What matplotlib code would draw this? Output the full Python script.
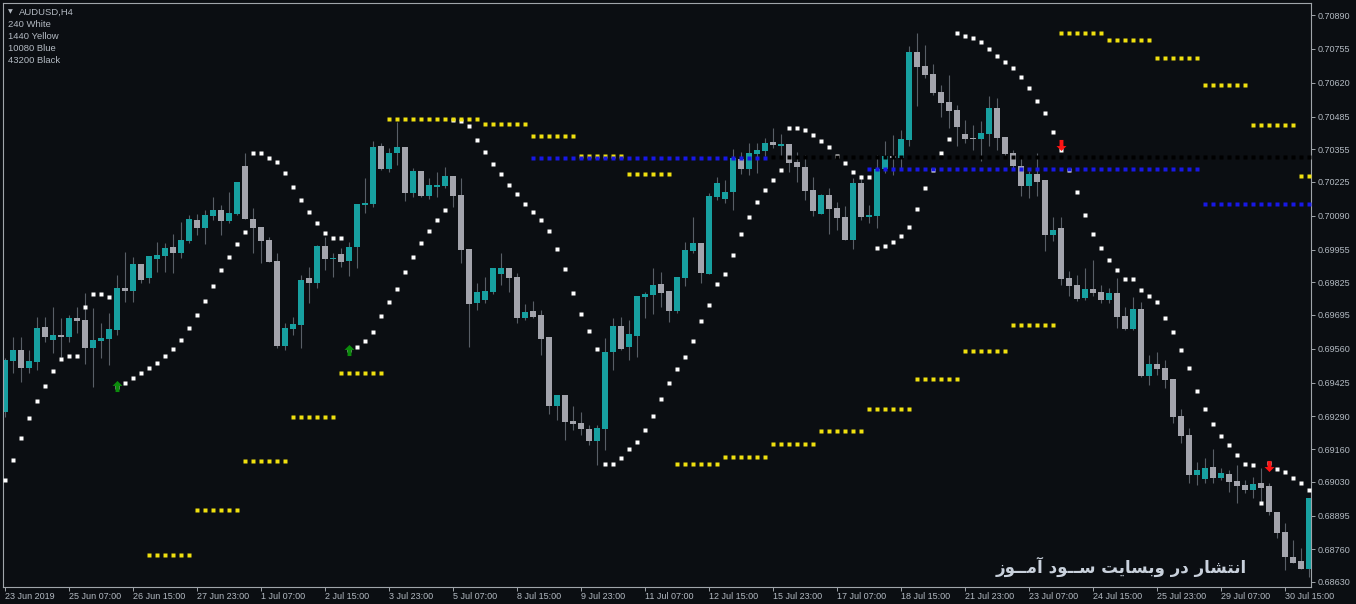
import numpy as np
import matplotlib
matplotlib.use("Agg")
import matplotlib.pyplot as plt
from matplotlib.path import Path

# AUDUSD H4, prices in points (1e-5)
opens = np.array([
    69308, 69511, 69555, 69483, 69507, 69647, 69595, 69615, 69607, 69682,
    69674, 69563, 69591, 69599, 69635, 69802, 69790, 69898, 69842, 69918,
    69930, 69965, 69942, 69989, 70073, 70041, 70089, 70113, 70069, 70097,
    70288, 70077, 70045, 69993, 69910, 69571, 69639, 69655, 69842, 69822,
    69969, 69918, 69938, 69910, 69965, 70133, 70137, 70368, 70276, 70340,
    70364, 70181, 70268, 70169, 70205, 70209, 70248, 70173, 69957, 69742,
    69754, 69786, 69858, 69882, 69846, 69682, 69710, 69694, 69607, 69332,
    69376, 69272, 69264, 69240, 69192, 69240, 69547, 69651, 69567, 69611,
    69766, 69774, 69818, 69790, 69710, 69842, 69950, 69981, 69858, 70165,
    70157, 70185, 70316, 70276, 70336, 70348, 70384, 70368, 70376, 70304,
    70284, 70193, 70097, 70173, 70121, 70085, 69993, 70221, 70085, 70089,
    70276, 70328, 70320, 70392, 70743, 70687, 70655, 70583, 70543, 70512,
    70416, 70400, 70396, 70416, 70520, 70404, 70340, 70288, 70209, 70256,
    70233, 70013, 70041, 69842, 69814, 69762, 69798, 69786, 69754, 69782,
    69690, 69639, 69718, 69451, 69499, 69483, 69439, 69292, 69216, 69057,
    69041, 69089, 69045, 69061, 69033, 69017, 68997, 69025, 69013, 68909,
    68829, 68730, 68714, 68682]) / 1e5
highs = np.array([
    69523, 69607, 69607, 69555, 69686, 69686, 69726, 69682, 69694, 69726,
    69782, 69722, 69663, 69702, 69854, 69946, 69926, 69898, 69930, 69985,
    69981, 70017, 70065, 70093, 70097, 70113, 70165, 70133, 70185, 70225,
    70340, 70121, 70045, 70005, 69942, 69663, 69686, 69854, 69886, 69973,
    70005, 69942, 69961, 69985, 70137, 70240, 70388, 70380, 70360, 70464,
    70364, 70280, 70268, 70240, 70264, 70284, 70248, 70240, 69957, 69822,
    69846, 69882, 69942, 69882, 69862, 69738, 69750, 69714, 69607, 69376,
    69376, 69332, 69308, 69256, 69256, 69603, 69682, 69686, 69674, 69770,
    69786, 69882, 69866, 69790, 69846, 69985, 70085, 69981, 70181, 70244,
    70233, 70356, 70344, 70380, 70380, 70400, 70440, 70416, 70376, 70344,
    70332, 70244, 70177, 70201, 70145, 70129, 70240, 70252, 70133, 70332,
    70388, 70412, 70432, 70767, 70818, 70771, 70695, 70611, 70651, 70531,
    70472, 70452, 70468, 70567, 70559, 70404, 70352, 70320, 70268, 70340,
    70233, 70085, 70085, 69870, 69854, 69882, 69914, 69814, 69802, 69842,
    69726, 69766, 69746, 69535, 69547, 69515, 69439, 69320, 69244, 69108,
    69124, 69160, 69085, 69077, 69097, 69037, 69049, 69085, 69025, 68909,
    68865, 68798, 68766, 68965]) / 1e5
lows = np.array([
    69288, 69463, 69427, 69463, 69475, 69587, 69543, 69527, 69587, 69623,
    69499, 69407, 69523, 69495, 69615, 69746, 69746, 69822, 69822, 69866,
    69866, 69862, 69922, 69981, 70013, 69977, 70073, 70013, 70061, 70093,
    70077, 69942, 69902, 69906, 69563, 69555, 69615, 69563, 69742, 69802,
    69874, 69846, 69886, 69850, 69882, 70101, 70125, 70272, 70264, 70292,
    70149, 70165, 70165, 70157, 70165, 70201, 70125, 69902, 69567, 69714,
    69742, 69778, 69814, 69786, 69663, 69674, 69682, 69535, 69300, 69276,
    69196, 69236, 69216, 69176, 69097, 69156, 69475, 69555, 69515, 69527,
    69682, 69698, 69726, 69667, 69702, 69810, 69942, 69822, 69858, 70153,
    70141, 70113, 70256, 70252, 70260, 70328, 70360, 70324, 70264, 70225,
    70153, 70089, 70097, 70017, 70033, 69993, 69957, 70073, 70061, 70041,
    70260, 70252, 70280, 70368, 70527, 70639, 70571, 70484, 70440, 70368,
    70380, 70352, 70308, 70368, 70352, 70320, 70272, 70169, 70161, 70169,
    69950, 69989, 69814, 69770, 69750, 69754, 69770, 69742, 69742, 69643,
    69635, 69635, 69447, 69415, 69455, 69403, 69264, 69184, 69025, 69017,
    69025, 69025, 69037, 68989, 68945, 68985, 68965, 68945, 68897, 68806,
    68678, 68706, 68682, 68650]) / 1e5
closes = np.array([
    69515, 69555, 69483, 69511, 69643, 69607, 69615, 69607, 69682, 69670,
    69563, 69595, 69603, 69639, 69802, 69790, 69898, 69834, 69930, 69934,
    69961, 69942, 69993, 70077, 70041, 70093, 70113, 70069, 70101, 70225,
    70077, 70041, 69989, 69906, 69571, 69643, 69659, 69834, 69822, 69969,
    69918, 69922, 69906, 69965, 70137, 70141, 70364, 70276, 70340, 70364,
    70181, 70268, 70169, 70213, 70213, 70248, 70169, 69954, 69738, 69786,
    69790, 69882, 69882, 69842, 69682, 69706, 69686, 69599, 69332, 69376,
    69268, 69260, 69240, 69192, 69244, 69547, 69651, 69559, 69619, 69770,
    69778, 69814, 69782, 69710, 69846, 69954, 69981, 69862, 70169, 70221,
    70185, 70320, 70276, 70340, 70352, 70380, 70372, 70376, 70300, 70284,
    70189, 70109, 70173, 70117, 70081, 69993, 70221, 70085, 70093, 70276,
    70328, 70320, 70396, 70743, 70683, 70651, 70579, 70539, 70508, 70444,
    70396, 70396, 70420, 70520, 70400, 70336, 70288, 70209, 70256, 70225,
    70013, 70033, 69838, 69810, 69758, 69798, 69782, 69754, 69782, 69686,
    69639, 69718, 69451, 69499, 69479, 69435, 69288, 69212, 69057, 69077,
    69085, 69045, 69065, 69029, 69013, 68997, 69021, 69005, 68909, 68825,
    68730, 68706, 68682, 68965]) / 1e5

# parabolic SAR on H4 (white dots)
sar = np.array([
    69037, 69116, 69204, 69284, 69352, 69411, 69471, 69519, 69531, 69531,
    69726, 69778, 69778, 69766, 69407, 69423, 69443, 69463, 69483, 69503,
    69531, 69559, 69595, 69643, 69694, 69750, 69810, 69874, 69926, 69977,
    70025, 70340, 70340, 70320, 70304, 70260, 70205, 70153, 70105, 70061,
    70021, 70001, 70001, 69555, 69567, 69591, 69627, 69690, 69746, 69798,
    69866, 69926, 69981, 70029, 70073, 70113, 70472, 70468, 70448, 70392,
    70344, 70296, 70256, 70213, 70177, 70137, 70105, 70073, 70029, 69957,
    69878, 69782, 69698, 69631, 69559, 69100, 69100, 69124, 69160, 69188,
    69236, 69292, 69360, 69423, 69479, 69527, 69591, 69670, 69734, 69818,
    69858, 69934, 70017, 70085, 70145, 70193, 70233, 70272, 70440, 70440,
    70432, 70412, 70388, 70364, 70328, 70300, 70264, 70244, 70244, 69961,
    69969, 69985, 70009, 70045, 70117, 70201, 70272, 70340, 70396, 70818,
    70807, 70799, 70783, 70755, 70727, 70703, 70679, 70643, 70599, 70547,
    70500, 70424, 70352, 70272, 70185, 70093, 70017, 69961, 69914, 69874,
    69838, 69838, 69794, 69770, 69746, 69682, 69627, 69555, 69483, 69391,
    69320, 69260, 69212, 69176, 69136, 69100, 69097, 68945, 69104, 69081,
    69069, 69045, 69025, 68997]) / 1e5

# 1440 (daily) SAR, one value per day of 6 bars, first day starts at bar 18
daily_sar = np.array([
    68738, 68917, 69112, 69288, 69463, 70476, 70476, 70456, 70408, 70328,
    70256, 69100, 69128, 69180, 69232, 69318, 69439, 69551, 69655, 70818,
    70791, 70719, 70611, 70452, 70248]) / 1e5
daily_start = 18

# 10080 (weekly) SAR segments
weekly_sar = [0.70320, 0.70276, 0.70137]
weekly_first = [66, 108, 150]
weekly_last = [95, 149, 163]

# 43200 (monthly) SAR
monthly_sar = 0.70324
monthly_first = 96

# signal arrows
buy_bars = [14, 43]
buy_prices = [0.69411, 0.69555]
sell_bars = [132, 158]
sell_prices = [0.70372, 0.69092]

time_labels = ["23 Jun 2019", "25 Jun 07:00", "26 Jun 15:00", "27 Jun 23:00",
               "1 Jul 07:00", "2 Jul 15:00", "3 Jul 23:00", "5 Jul 07:00",
               "8 Jul 15:00", "9 Jul 23:00", "11 Jul 07:00", "12 Jul 15:00",
               "15 Jul 23:00", "17 Jul 07:00", "18 Jul 15:00", "21 Jul 23:00",
               "23 Jul 07:00", "24 Jul 15:00", "25 Jul 23:00", "29 Jul 07:00",
               "30 Jul 15:00"]
price_ticks = [0.70890, 0.70755, 0.70620, 0.70485, 0.70355, 0.70225, 0.70090,
               0.69955, 0.69825, 0.69695, 0.69560, 0.69425, 0.69290, 0.69160,
               0.69030, 0.68895, 0.68760, 0.68630]

legend_lines = ["240 White", "1440 Yellow", "10080 Blue", "43200 Black"]
# "انتشار در وبسایت ســود آمــوز" written in shaped (presentation) forms, visual order
watermark = ("\ufeaf\ufeee\u0640\u0640\ufee3\ufe81 "
             "\ufea9\ufeee\u0640\u0640\ufeb3 "
             "\ufe96\ufef3\ufe8e\ufeb4\ufe91\ufeed "
             "\ufead\ufea9 "
             "\ufead\ufe8e\ufeb8\ufe98\ufee7\ufe8d")

bg = "#0b0e12"
teal = "#17a0a0"
grey = "#a3a4ac"
frame = "#a0a5aa"
txt = "#b3bac2"
W, H = 1356, 604

plt.rcParams["font.family"] = ["Liberation Sans", "DejaVu Sans"]

fig = plt.figure(figsize=(W / 100, H / 100), dpi=100, facecolor=bg)
ax = fig.add_axes([3 / W, 17 / H, 1308 / W, 584 / H], facecolor=bg)

x = np.arange(len(opens))
up = closes >= opens
ax.vlines(x, lows, highs, color="#585e66", lw=0.8, zorder=1)
body_lo = np.minimum(opens, closes)
body_h = np.maximum(np.abs(closes - opens), 0.00004)
ax.bar(x[up], body_h[up], bottom=body_lo[up], width=0.78, color=teal, lw=0, zorder=2)
ax.bar(x[~up], body_h[~up], bottom=body_lo[~up], width=0.78, color=grey, lw=0, zorder=2)

dot = dict(linestyle="none", marker="s", ms=2.3, mec="none", antialiased=False)
ax.plot(x, sar, color="white", zorder=3, **dot)

daily_y = np.repeat(daily_sar, 6)[:len(x) - daily_start]
daily_x = np.arange(daily_start, daily_start + len(daily_y))
ax.plot(daily_x, daily_y, color="#f0e010", zorder=4, **dot)

for lvl, a, b in zip(weekly_sar, weekly_first, weekly_last):
    wx = np.arange(a, b + 1)
    ax.plot(wx, np.full(len(wx), lvl), color="#1818e6", zorder=5, **dot)

mx = np.arange(monthly_first, len(x))
ax.plot(mx, np.full(len(mx), monthly_sar), color="#000000", zorder=6, **dot)

arrow = Path([(0, 1), (0.9, 0.1), (0.35, 0.1), (0.35, -1), (-0.35, -1),
              (-0.35, 0.1), (-0.9, 0.1), (0, 1)])
arrow_dn = Path(arrow.vertices * [1, -1])
ax.plot(buy_bars, buy_prices, linestyle="none", marker=arrow, ms=8,
        color="#0c8c0c", mec="none", zorder=7)
ax.plot(sell_bars, sell_prices, linestyle="none", marker=arrow_dn, ms=8,
        color="#ff1414", mec="none", zorder=7)

ax.set_xlim(-0.2125, 163.29)
ax.set_ylim(0.68610, 0.70938)
for s in ax.spines.values():
    s.set_color(frame)
    s.set_linewidth(0.8)

ax.yaxis.tick_right()
ax.set_yticks(price_ticks)
ax.set_yticklabels([f"{p:.5f}" for p in price_ticks])
ax.set_xticks(np.arange(0, len(x), 8))
ax.set_xticklabels(time_labels, ha="left")
ax.tick_params(axis="both", colors=frame, labelcolor=txt, length=3, width=0.7,
               labelsize=6.5)
ax.tick_params(axis="x", pad=0.5)
ax.tick_params(axis="y", pad=1.5)

def px_text(px, py, s, va="center", **kw):
    fig.text(px / W, 1 - py / H, s, va=va, **kw)

px_text(10, 12, "\u25bc", color=txt, fontsize=4.5, ha="center", family="DejaVu Sans")
px_text(19, 12, "AUDUSD,H4", color=txt, fontsize=6.8)
for i, line in enumerate(legend_lines):
    px_text(8, 24.3 + 12.2 * i, line, color=txt, fontsize=6.8)

px_text(1247, 573, watermark, va="baseline", color="#c9d1dc", fontsize=12,
        fontweight="bold", ha="right", family="DejaVu Sans")

fig.savefig("out.png", dpi=100, facecolor=bg)
